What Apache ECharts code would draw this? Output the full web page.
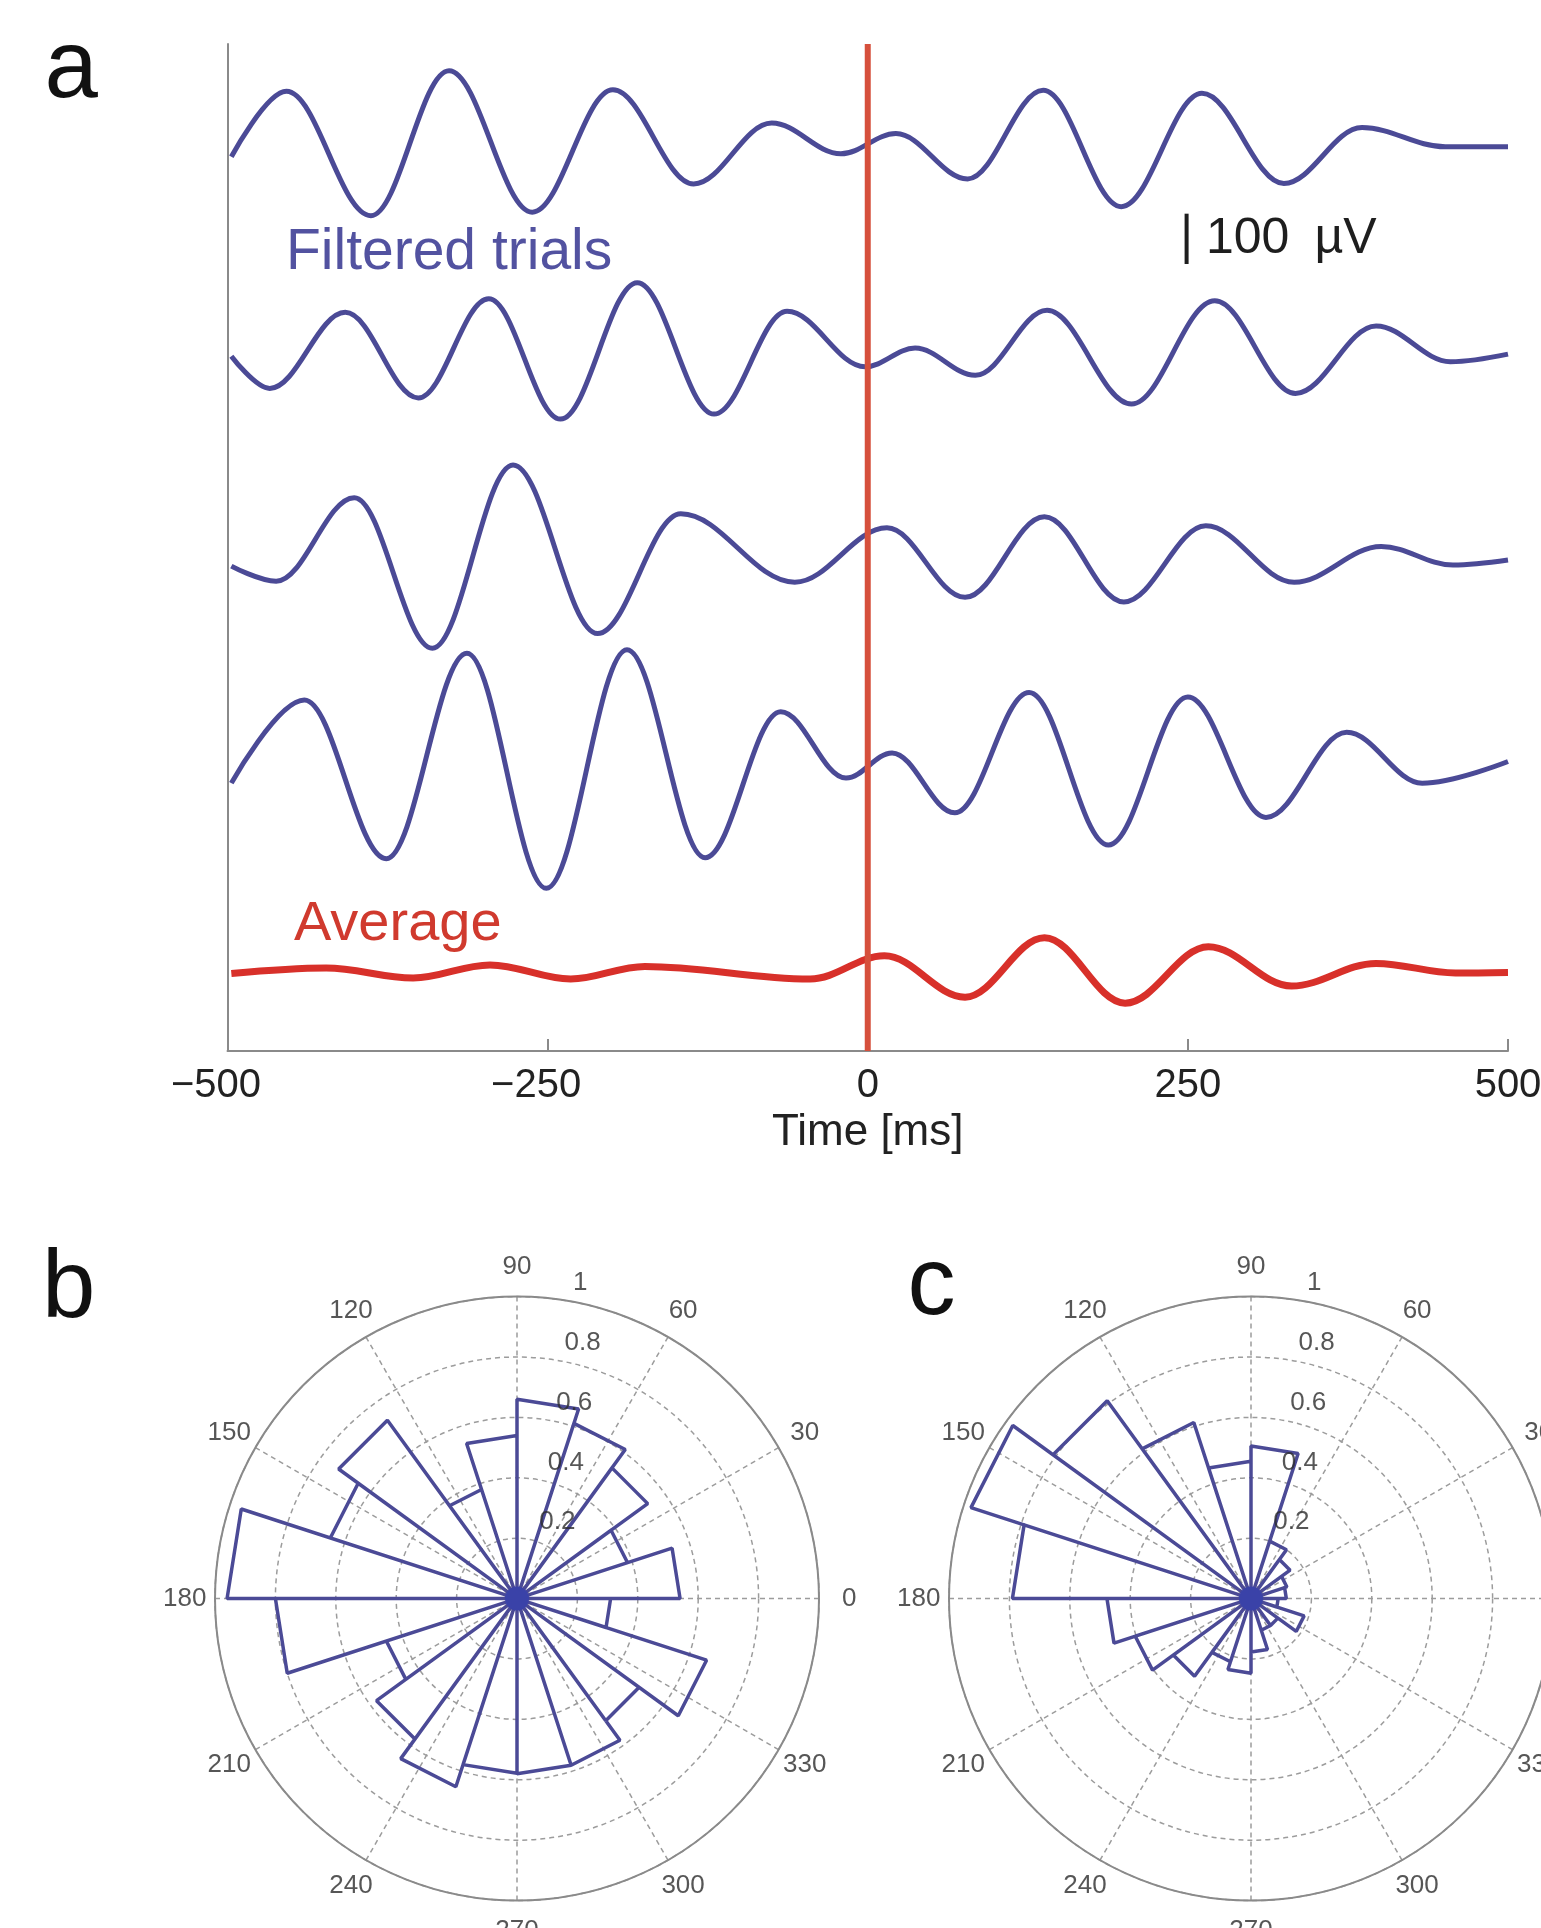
<!DOCTYPE html>
<html>
<head>
<meta charset="utf-8">
<script src="https://cdn.jsdelivr.net/npm/echarts@6/dist/echarts.min.js"></script>
<style>
html,body{margin:0;padding:0;background:#ffffff;}
#chart{width:1541px;height:1928px;}
</style>
</head>
<body>
<div id="chart"></div>
<script>
// ---------- Panel a: filtered trials (time in ms, amplitude in µV relative to each trace baseline)
const timeTicks = [-500, -250, 0, 250, 500];
const trial1 = [[-497,-14],[-454,116],[-388,-131],[-327,157],[-262,-124],[-199,119],[-136,-68],[-75,53],[-21,-8],[22,32],[78,-58],[137,118],[198,-113],[261,112],[325,-67],[386,44],[451,6],[500,6]];
const trial2 = [[-497,-2],[-467,-66],[-408,85],[-351,-85],[-296,112],[-240,-127],[-180,144],[-120,-117],[-63,87],[-2,-23],[37,14],[84,-40],[140,89],[206,-97],[271,108],[334,-76],[397,58],[455,-13],[500,2]];
const trial3 = [[-497,-6],[-462,-36],[-401,130],[-340,-169],[-277,195],[-211,-140],[-146,98],[-57,-38],[15,70],[76,-68],[138,92],[200,-77],[264,74],[333,-38],[401,33],[457,-4],[500,6]];
const trial4 = [[-497,-16],[-440,149],[-376,-166],[-313,242],[-251,-225],[-188,249],[-127,-164],[-68,126],[-17,-6],[19,44],[68,-75],[126,164],[188,-139],[250,155],[311,-84],[374,85],[433,-16],[500,27]];
const average = [[-497,-1],[-423,10],[-355,-10],[-295,16],[-232,-12],[-174,13],[-45,-12],[13,34],[76,-48],[138,70],[201,-60],[266,52],[331,-26],[397,19],[459,0],[500,1]];
const trialOffsets = [1790, 1382, 969, 548];   // µV stacking offsets
const averageOffset = 155;
const stimulusLine = [[0, 0], [0, 2000]];
const scaleBar = [[249, 1563], [249, 1663]];   // 100 µV

// ---------- Panels b, c: rose histograms (20 bins of 18°)
const binWidthDeg = 18;
const roseB = [0.54,0.385,0.535,0.61,0.66,0.54,0.38,0.73,0.65,0.96,0.80,0.455,0.575,0.655,0.578,0.58,0.58,0.50,0.66,0.31];
const roseC = [0.117,0.125,0.16,0.20,0.505,0.455,0.613,0.81,0.975,0.79,0.477,0.403,0.318,0.22,0.247,0.177,0.11,0.11,0.185,0.09];
const angleTicks = [0,30,60,90,120,150,180,210,240,270,300,330];
const radiusTicks = [0.2,0.4,0.6,0.8,1];
const radiusTickLabels = ['0.2','0.4','0.6','0.8','1'];

// ---------- styles
const FONT = 'Liberation Sans, Arial, Helvetica, sans-serif';
const BLUE = '#4b4a96';
const RED_LINE = '#d6503c';
const RED_AVG = '#d8302a';
const AXIS_GRAY = '#8a8a8a';
const GRID_GRAY = '#9c9c9c';

function shift(arr, off) { return arr.map(p => [p[0], p[1] + off]); }
function rosePath(bins) {
  const pts = [];
  bins.forEach((r, i) => {
    const a0 = i * binWidthDeg, a1 = a0 + binWidthDeg;
    pts.push([0, a0], [r, a0], [r, a1], [0, a1]);
  });
  return pts;
}

const chart = echarts.init(document.getElementById('chart'), null, {renderer: 'canvas'});

const traceSeries = [trial1, trial2, trial3, trial4].map((tr, i) => ({
  type: 'line', xAxisIndex: 0, yAxisIndex: 0,
  data: shift(tr, trialOffsets[i]),
  symbol: 'none', smooth: 0.36, smoothMonotone: 'x',
  lineStyle: {color: BLUE, width: 5}, z: 2, silent: true
}));

function polarAxes(idx) {
  return {
    angle: {
      polarIndex: idx, type: 'value', min: 0, max: 360, interval: 30,
      startAngle: 0, clockwise: false,
      axisLine: {show: true, lineStyle: {color: AXIS_GRAY, width: 2}},
      axisTick: {show: false}, axisLabel: {show: false},
      splitLine: {show: true, lineStyle: {color: GRID_GRAY, width: 1.5, type: [5, 4]}}
    },
    radius: {
      polarIndex: idx, type: 'value', min: 0, max: 1, interval: 0.2,
      axisLine: {show: false}, axisTick: {show: false}, axisLabel: {show: false},
      splitLine: {show: true, lineStyle: {color: GRID_GRAY, width: 1.5, type: [5, 4]}}
    }
  };
}
const pB = polarAxes(0), pC = polarAxes(1);

function polarSeries(idx, bins) {
  return [
    {
      type: 'line', coordinateSystem: 'polar', polarIndex: idx,
      data: rosePath(bins), symbol: 'none', smooth: false,
      lineStyle: {color: BLUE, width: 3.5}, z: 3, silent: true
    },
    {
      type: 'scatter', coordinateSystem: 'polar', polarIndex: idx,
      data: [[0, 0]], symbolSize: 24, itemStyle: {color: '#3640ad'}, z: 4, silent: true
    },
    {
      type: 'scatter', coordinateSystem: 'polar', polarIndex: idx, clip: false,
      data: angleTicks.map(a => [1.1, a]), symbolSize: 1,
      itemStyle: {color: 'rgba(0,0,0,0)'}, z: 5, silent: true,
      label: {show: true, position: 'inside', formatter: p => String(p.value[1]),
        color: '#2c2c2c', fontSize: 26, fontFamily: FONT}
    },
    {
      type: 'scatter', coordinateSystem: 'polar', polarIndex: idx, clip: false,
      data: radiusTicks.map(r => [r + 0.01, 82]), symbolSize: 1,
      itemStyle: {color: 'rgba(0,0,0,0)'}, z: 5, silent: true,
      label: {show: true, position: [14, 0], align: 'left', verticalAlign: 'bottom',
        formatter: p => radiusTickLabels[p.dataIndex],
        color: '#2c2c2c', fontSize: 26, fontFamily: FONT}
    }
  ];
}

function txt(text, x, y, size, color) {
  return {type: 'text', z: 10, silent: true,
    style: {text: text, x: x, y: y, font: size + 'px ' + FONT, fill: color,
      align: 'left', verticalAlign: 'middle', textAlign: 'left', textVerticalAlign: 'middle'}};
}

const option = {
  animation: false,
  backgroundColor: '#ffffff',
  textStyle: {fontFamily: FONT},
  grid: {left: 227.5, right: 33, top: 44, bottom: 877, outerBoundsMode: 'none', containLabel: false},
  xAxis: {
    type: 'value', min: -500, max: 500, interval: 250,
    name: 'Time [ms]', nameLocation: 'middle', nameGap: 57,
    nameTextStyle: {fontSize: 44, color: '#222222', fontFamily: FONT},
    axisLine: {show: true, onZero: false, lineStyle: {color: AXIS_GRAY, width: 2}},
    axisTick: {show: true, inside: true, length: 12, lineStyle: {color: AXIS_GRAY, width: 2}},
    splitLine: {show: false},
    axisLabel: {
      margin: 15, hideOverlap: false,
      formatter: v => v < 0 ? '{n|\u2212' + Math.abs(v) + '}{p| }' : '{n|' + v + '}',
      rich: {
        n: {fontSize: 40, color: '#222222', fontFamily: FONT},
        p: {fontSize: 40, width: 23, fontFamily: FONT}
      }
    }
  },
  yAxis: {
    type: 'value', min: 0, max: 2000,
    axisLine: {show: true, onZero: false, lineStyle: {color: AXIS_GRAY, width: 2}},
    axisTick: {show: false}, axisLabel: {show: false}, splitLine: {show: false}
  },
  polar: [
    {center: [517, 1598.6], radius: 302},
    {center: [1251, 1598.6], radius: 302}
  ],
  angleAxis: [pB.angle, pC.angle],
  radiusAxis: [pB.radius, pC.radius],
  series: [
    ...traceSeries,
    {
      type: 'line', xAxisIndex: 0, yAxisIndex: 0,
      data: shift(average, averageOffset),
      symbol: 'none', smooth: 0.36, smoothMonotone: 'x',
      lineStyle: {color: RED_AVG, width: 7}, z: 3, silent: true
    },
    {
      type: 'line', xAxisIndex: 0, yAxisIndex: 0, data: stimulusLine,
      symbol: 'none', lineStyle: {color: RED_LINE, width: 6}, z: 4, silent: true
    },
    {
      type: 'line', xAxisIndex: 0, yAxisIndex: 0, data: scaleBar,
      symbol: 'none', lineStyle: {color: '#1e1e1e', width: 4}, z: 4, silent: true
    },
    ...polarSeries(0, roseB),
    ...polarSeries(1, roseC)
  ],
  graphic: [
    txt('a', 44.5, 71, 96, '#111111'),
    txt('b', 42, 1291, 96, '#111111'),
    txt('c', 907.5, 1288, 96, '#111111'),
    txt('Filtered trials', 286, 253, 57, '#5252a0'),
    txt('Average', 294, 925, 56, '#d03a2e'),
    txt('100\u2002\u00b5V', 1206, 239, 50, '#1e1e1e')
  ]
};
chart.setOption(option);
</script>
</body>
</html>
